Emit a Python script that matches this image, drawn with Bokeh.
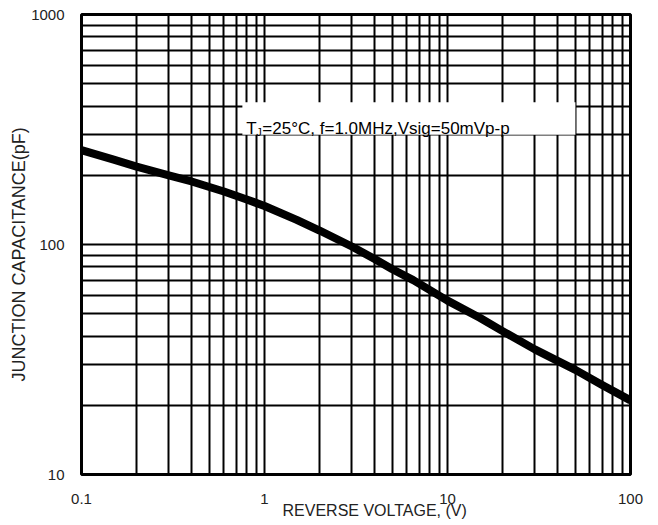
from bokeh.plotting import figure
from bokeh.models import FixedTicker, CustomJSTickFormatter, Label, BoxAnnotation, Range1d, Title
from bokeh.embed import file_html
from bokeh.resources import INLINE

# data
voltage = [0.1, 0.15, 0.2, 0.3, 0.4, 0.6, 0.8, 1.0, 1.5, 2.0, 3.0, 4.0, 5.0, 6.5,
           10.0, 15.0, 20.0, 30.0, 50.0, 70.0, 100.0]
capacitance = [257, 234, 218, 200, 188, 170, 157, 147, 128, 115, 98, 86.5, 78, 70,
               57, 48, 42, 35, 28.5, 24.5, 21]

x_major = [0.1, 1, 10, 100]
y_major = [10, 100, 1000]
mult = [2, 3, 4, 5, 6, 7, 8, 9]
x_minor = [d * m for d in [0.1, 1, 10] for m in mult]
y_minor = [d * m for d in [10, 100] for m in mult]

x_title = "REVERSE VOLTAGE, (V)"
y_title = "JUNCTION CAPACITANCE(pF)"
note_sym = "T"
note_sub = "J"
note_rest = "=25°C, f=1.0MHz,Vsig=50mVp-p"

FONT = "Liberation Sans"

p = figure(width=650, height=522, x_axis_type="log", y_axis_type="log",
           x_range=Range1d(0.1, 100), y_range=Range1d(10, 1000),
           output_backend="svg", toolbar_location=None,
           min_border_left=81, min_border_right=20, min_border_top=14, min_border_bottom=48)

p.xaxis.ticker = FixedTicker(ticks=x_major, minor_ticks=x_minor)
p.yaxis.ticker = FixedTicker(ticks=y_major, minor_ticks=y_minor)
fmt = "return tick.toString();"
p.xaxis.formatter = CustomJSTickFormatter(code=fmt)
p.yaxis.formatter = CustomJSTickFormatter(code=fmt)

for ax in (p.xaxis, p.yaxis):
    ax.major_tick_line_color = None
    ax.minor_tick_line_color = None
    ax.axis_line_color = None
    ax.major_label_text_font = FONT
    ax.major_label_text_font_size = "15px"
    ax.major_label_text_color = "#222222"

p.xaxis.major_label_standoff = 13
p.yaxis.major_label_standoff = 11

for g in (p.xgrid, p.ygrid):
    g.grid_line_color = "black"
    g.grid_line_width = 2
    g.grid_line_alpha = 1
    g.minor_grid_line_color = "black"
    g.minor_grid_line_width = 2

p.outline_line_color = "black"
p.outline_line_width = 3
p.outline_line_alpha = 1

p.line(voltage, capacitance, line_width=8, line_color="black", line_join="round")

# axis titles
p.add_layout(Title(text=x_title, align="left", offset=201, standoff=-10,
                   vertical_align="top", text_font=FONT, text_font_size="16px",
                   text_font_style="normal", text_color="#222222"), "below")
p.add_layout(Title(text=y_title, align="left", offset=93, standoff=0,
                   text_font=FONT, text_font_size="18px",
                   text_font_style="normal", text_color="#222222"), "left")

# annotation box
box = BoxAnnotation(left=0.757, right=50.0, bottom=300, top=415,
                    fill_color="white", fill_alpha=1, line_color=None)
p.add_layout(box)
p.add_layout(Label(x=0.757, y=318, x_offset=4, text=note_sym, text_font=FONT,
                   text_font_size="17px", text_color="black", text_baseline="alphabetic"))
p.add_layout(Label(x=0.757, y=318, x_offset=14, y_offset=-3, text=note_sub, text_font=FONT,
                   text_font_size="11px", text_color="black", text_baseline="alphabetic"))
p.add_layout(Label(x=0.757, y=318, x_offset=20, text=note_rest, text_font=FONT,
                   text_font_size="17px", text_color="black", text_baseline="alphabetic"))

open("out.html", "w").write(file_html(p, INLINE))
